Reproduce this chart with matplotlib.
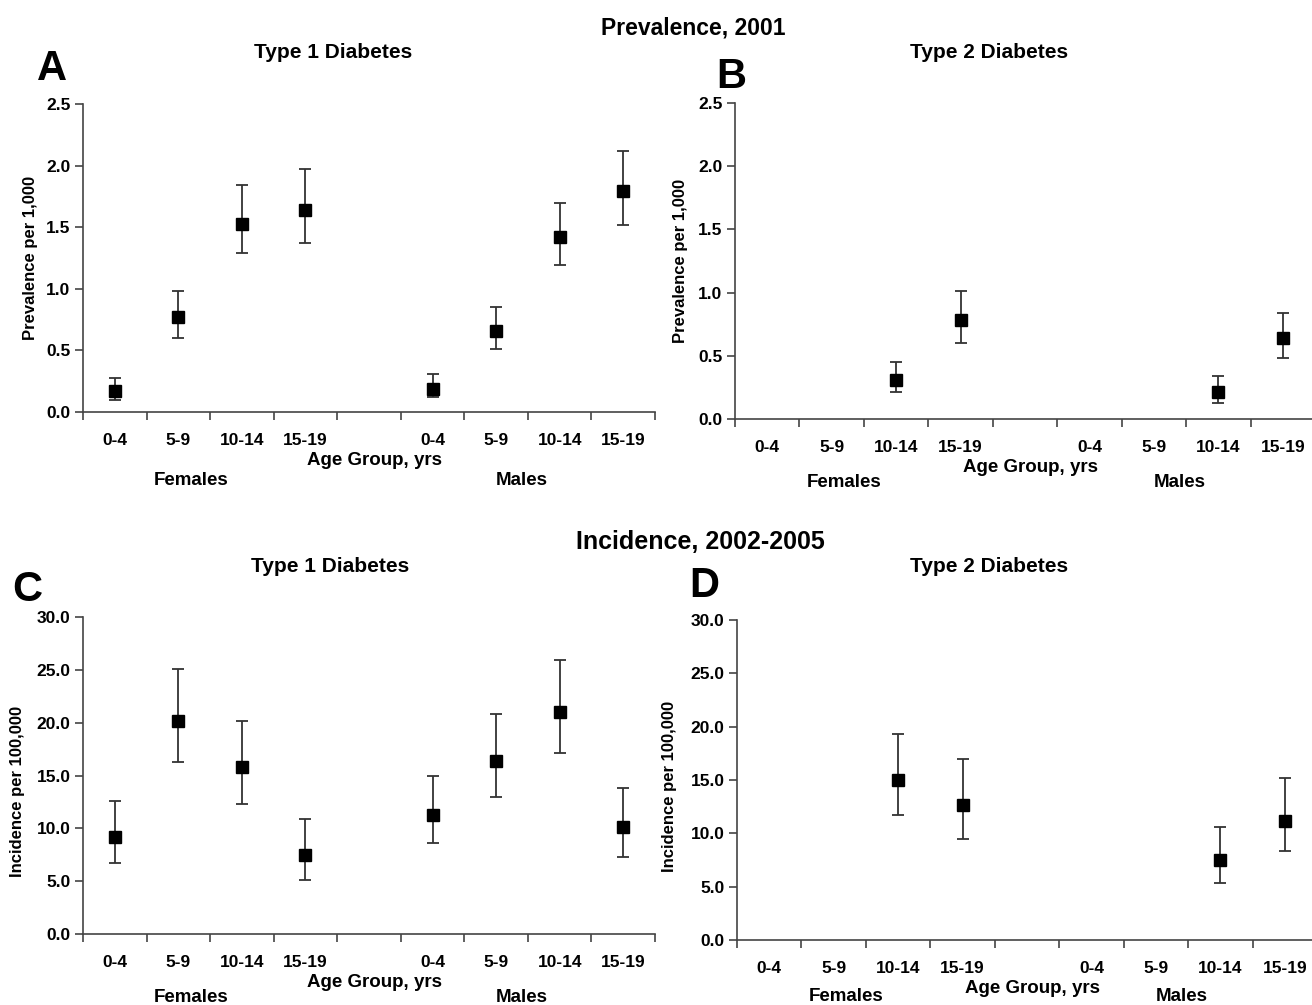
import numpy as np
import matplotlib
matplotlib.use("Agg")
import matplotlib.pyplot as plt
from matplotlib.transforms import blended_transform_factory

plt.rcParams['font.family'] = ['Liberation Sans', 'DejaVu Sans']
plt.rcParams['font.weight'] = 'bold'

# ---------------- data ----------------
age_labels = ["0-4", "5-9", "10-14", "15-19", "", "0-4", "5-9", "10-14", "15-19"]
sex_labels = ["Females", "Males"]
nan = np.nan

# Panel A: Type 1 prevalence per 1,000 (2001)
a_val = [0.17, 0.77, 1.53, 1.64, nan, 0.19, 0.66, 1.42, 1.79]
a_low = [0.10, 0.60, 1.29, 1.37, nan, 0.12, 0.51, 1.19, 1.52]
a_high = [0.28, 0.98, 1.84, 1.97, nan, 0.31, 0.85, 1.70, 2.12]

# Panel B: Type 2 prevalence per 1,000 (2001)
b_val = [nan, nan, 0.31, 0.78, nan, nan, nan, 0.21, 0.64]
b_low = [nan, nan, 0.21, 0.60, nan, nan, nan, 0.13, 0.48]
b_high = [nan, nan, 0.45, 1.01, nan, nan, nan, 0.34, 0.84]

# Panel C: Type 1 incidence per 100,000 (2002-2005)
c_val = [9.2, 20.2, 15.8, 7.5, nan, 11.3, 16.4, 21.0, 10.1]
c_low = [6.7, 16.3, 12.3, 5.1, nan, 8.6, 13.0, 17.1, 7.3]
c_high = [12.6, 25.1, 20.2, 10.9, nan, 15.0, 20.8, 25.9, 13.8]

# Panel D: Type 2 incidence per 100,000 (2002-2005)
d_val = [nan, nan, 15.0, 12.7, nan, nan, nan, 7.5, 11.2]
d_low = [nan, nan, 11.7, 9.5, nan, nan, nan, 5.3, 8.3]
d_high = [nan, nan, 19.3, 17.0, nan, nan, nan, 10.6, 15.2]

prev_ticks = [0.0, 0.5, 1.0, 1.5, 2.0, 2.5]
inc_ticks = [0.0, 5.0, 10.0, 15.0, 20.0, 25.0, 30.0]

# ---------------- figure ----------------
W, H = 1312, 1005
fig = plt.figure(figsize=(W / 100, H / 100), dpi=100)


def px_axes(left, top, right, bottom):
    return fig.add_axes([left / W, 1 - bottom / H, (right - left) / W, (bottom - top) / H])


def ftext(x, y, s, size, **kw):
    fig.text(x / W, 1 - y / H, s, fontsize=size, fontweight='bold',
             ha='center', va='center', **kw)


def panel(ax, val, low, high, yticks, fmt, ylabel, sex_off, ylab_x, ylab_y=0.5):
    val = np.array(val, float)
    low = np.array(low, float)
    high = np.array(high, float)
    x = np.arange(len(age_labels))
    m = ~np.isnan(val)
    ax.errorbar(x[m], val[m], yerr=[val[m] - low[m], high[m] - val[m]],
                fmt='s', color='black', ecolor='#333333', elinewidth=1.3,
                capsize=4.5, capthick=1.3, markersize=9, zorder=3)
    ax.set_xlim(-0.5, len(age_labels) - 0.5)
    ax.set_ylim(yticks[0], yticks[-1])
    ax.set_yticks(yticks)
    ax.set_yticklabels([fmt.format(t) for t in yticks])
    ax.set_xticks(np.arange(len(age_labels) + 1) - 0.5)
    ax.set_xticklabels([])
    ax.set_xticks(x, minor=True)
    ax.set_xticklabels(age_labels, minor=True)
    ax.tick_params(axis='x', which='major', direction='out', length=6, width=1.2, color='#444444')
    ax.tick_params(axis='x', which='minor', length=0, pad=15, labelsize=12.5)
    ax.tick_params(axis='y', direction='out', length=6, width=1.2, color='#444444',
                   labelsize=12.5, pad=3)
    for lab in ax.get_xticklabels(minor=True) + ax.get_yticklabels():
        lab.set_fontweight('bold')
    for s in ['top', 'right']:
        ax.spines[s].set_visible(False)
    for s in ['left', 'bottom']:
        ax.spines[s].set_color('#444444')
        ax.spines[s].set_linewidth(1.2)
    ax.set_ylabel(ylabel, fontsize=12, fontweight='bold')
    ax.yaxis.set_label_coords(ylab_x, ylab_y)
    ax.annotate("Age Group, yrs", xy=(0.51, 0), xycoords='axes fraction',
                xytext=(0, -35), textcoords='offset points',
                ha='center', va='center', fontsize=13.5, fontweight='bold')
    tr = blended_transform_factory(ax.transData, ax.transAxes)
    for xs, s in zip([1.2, 6.4], sex_labels):
        ax.annotate(s, xy=(xs, 0), xycoords=tr, xytext=(0, -sex_off),
                    textcoords='offset points', ha='center', va='center',
                    fontsize=13.5, fontweight='bold')
    ax.set_facecolor('none')


axA = px_axes(83, 104, 655, 412)
axB = px_axes(735, 103, 1315, 419)
axC = px_axes(83, 617, 655, 934)
axD = px_axes(737, 620, 1317, 940)

panel(axA, a_val, a_low, a_high, prev_ticks, "{:.1f}", "Prevalence per 1,000", 49,
      ylab_x=-0.079)
panel(axB, b_val, b_low, b_high, prev_ticks, "{:.1f}", "Prevalence per 1,000", 46,
      ylab_x=-0.081)
panel(axC, c_val, c_low, c_high, inc_ticks, "{:.1f}", "Incidence per 100,000", 46,
      ylab_x=-0.101, ylab_y=0.45)
panel(axD, d_val, d_low, d_high, inc_ticks, "{:.1f}", "Incidence per 100,000", 41,
      ylab_x=-0.103, ylab_y=0.48)

ftext(693, 28, "Prevalence, 2001", 16.5)
ftext(333, 52, "Type 1 Diabetes", 15)
ftext(989, 52, "Type 2 Diabetes", 15)
ftext(52, 69, "A", 30)
ftext(731, 77, "B", 30)

ftext(700, 542, "Incidence, 2002-2005", 18)
ftext(330, 566, "Type 1 Diabetes", 15)
ftext(989, 566, "Type 2 Diabetes", 15)
ftext(27, 590, "C", 30)
ftext(704, 586, "D", 30)

fig.savefig("out.png", dpi=100, facecolor='white')
